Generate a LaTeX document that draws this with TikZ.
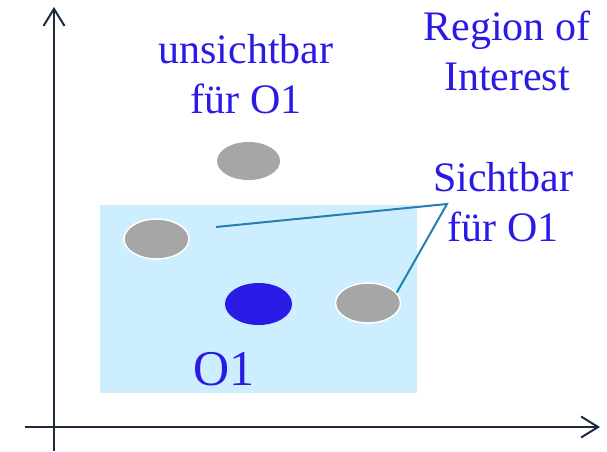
\documentclass[tikz,border=0pt]{standalone}
\usepackage{fontspec}
\setmainfont{Liberation Serif}
\usetikzlibrary{arrows.meta, shapes.geometric}
\definecolor{roiblue}{HTML}{2A1AE6}
\definecolor{roifill}{HTML}{CCEEFF}
\definecolor{objgray}{HTML}{A6A6A6}
\definecolor{axisnavy}{HTML}{1B2A40}
\definecolor{leadercol}{HTML}{2380B0}
\tikzset{
  axis/.style={-{Straight Barb[length=17pt, width=21pt]}, line width=2pt, axisnavy},
  obj/.style={ellipse, draw=white, line width=1.5pt, fill=#1, inner sep=0pt,
              minimum width=65pt, minimum height=40pt},
  obj/.default=objgray,
  lbl/.style={text=roiblue, font=\fontsize{42}{50}\selectfont, align=center,
              inner sep=0pt, anchor=base},
  leaderline/.style={line width=2pt, leadercol},
}

\begin{document}
\begin{tikzpicture}[x=1pt, y=-1pt]
  \useasboundingbox (0,0) rectangle (607,451);

  % --- region of interest ---
  \fill[roifill] (100,205) rectangle (417,393);

  % --- axes ---
  \coordinate (xfrom) at (25,427);
  \coordinate (xto) at (600,427);
  \coordinate (yfrom) at (54,451);
  \coordinate (yto) at (54,7);
  \draw[axis] (xfrom) -- (xto);
  \draw[axis] (yfrom) -- (yto);

  % --- objects ---
  \node[obj, draw=none, minimum width=63pt, minimum height=38pt] (hidden) at (248.5,161) {};
  \node[obj] (visleft) at (156.5,239) {};
  \node[obj=roiblue, draw=none, minimum width=67pt, minimum height=42pt] (obsO1) at (258.5,304) {};
  \node[obj] (visright) at (368,303) {};

  % --- labels (base = last line) ---
  \node[lbl] (roilabel) at (507,90) {Region of\\Interest};
  \node[lbl] (hiddenlabel) at (246,113) {unsichtbar\\für O1};
  \node[lbl] (vislabel) at (503,241) {Sichtbar\\für O1};
  \node[lbl, font=\fontsize{50}{60}\selectfont] (O1label) at (224,385) {O1};

  % --- leaders ---
  \coordinate (fork) at (447,204);
  \coordinate (leftend) at (216,227);
  \draw[leaderline] (leftend) -- (fork) -- (visright.20);
\end{tikzpicture}
\end{document}
